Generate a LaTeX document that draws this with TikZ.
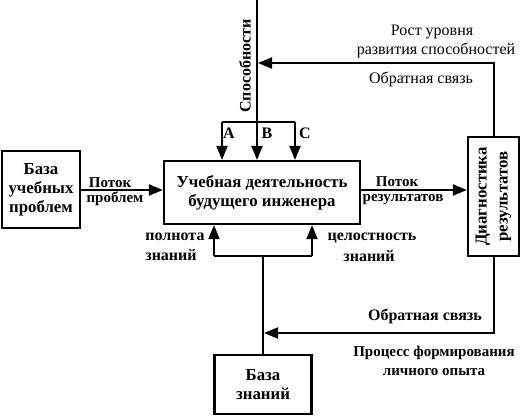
\documentclass[tikz,border=0pt]{standalone}
\usepackage{fontspec}
\setmainfont{Liberation Serif}
\usetikzlibrary{arrows.meta}
\newcommand{\shrift}{\fontsize{16}{19}\selectfont}
\newcommand{\melkij}{\fontsize{15}{19}\selectfont}
\tikzset{
  blok/.style={draw, line width=2.2pt, inner sep=0pt, align=center, font=\fontsize{16.8}{19}\selectfont\bfseries},
  metka/.style={inner sep=0pt, font=\shrift},
  zhmetka/.style={inner sep=0pt, font=\shrift\bfseries},
  mmetka/.style={inner sep=0pt, font=\melkij\bfseries},
  liniya/.style={line width=2pt},
  strelka/.style={line width=2pt, -{Triangle[length=14pt,width=11pt]}},
}
\begin{document}
\begin{tikzpicture}[x=1pt, y=-1pt]
  \useasboundingbox (0,0) rectangle (521,416);
  % blocks
  \node[blok, minimum width=78pt, minimum height=77pt] (zadachi) at (41,189.5) {База\\учебных\\проблем};
  \node[blok, minimum width=196pt, minimum height=63pt] (glavn) at (262,192.5) {Учебная деятельность\\будущего инженера};
  \node[blok, minimum width=51pt, minimum height=119pt] (diag) at (493.5,196.5) {};
  \node[rotate=90, align=center, inner sep=0pt, font=\fontsize{16.8}{21}\selectfont\bfseries] (diagtxt) at (diag) {Диагностика\\результатов};
  \node[blok, minimum width=97pt, minimum height=59pt] (znan) at (263,384.5) {База\\знаний};
  % labels
  \foreach \x/\y/\n/\l in {110/183/pp1/Поток,115/199/pp2/проблем,397/182/pr1/Поток,403/200/pr2/результатов,
      434/353/pf1/Процесс формирования,434/372/pf2/личного опыта}{
    \node[mmetka] (\n) at (\x,\y) {\l};
  }
  \foreach \x/\y/\n/\l in {229/133/la/A,267/133/lb/B,305/133/lc/C,175/237/po1/полнота,171/255/po2/знаний,
      372/238/ce1/целостность,369/256/ce2/знаний,425/316/ob2/Обратная связь}{
    \node[zhmetka] (\n) at (\x,\y) {\l};
  }
  \foreach \x/\y/\n/\l in {432/32/ru1/Рост уровня,436/50/ru2/развития способностей,421/79/ob1/Обратная связь}{
    \node[metka] (\n) at (\x,\y) {\l};
  }
  \node[zhmetka, rotate=90] (sposob) at (245,66) {Способности};
  % connectors
  \coordinate (verh) at (257,0);
  \coordinate (razvA) at (222,122);
  \coordinate (razvC) at (295,122);
  \coordinate (obrV) at (257,63);
  \coordinate (nizA) at (214,256);
  \coordinate (nizC) at (312,256);
  \coordinate (obrN) at (263,333);
  \coordinate (potok) at (0,190);
  \draw[strelka] (zadachi.east |- potok) -- (glavn.west |- potok);
  \draw[strelka] (glavn.east |- potok) -- (diag.west |- potok);
  \draw[strelka] (verh) -- (verh |- glavn.north);
  \draw[liniya] (razvA) -- (razvC);
  \draw[strelka] (razvA) -- (razvA |- glavn.north);
  \draw[strelka] (razvC) -- (razvC |- glavn.north);
  \draw[strelka, shorten >=1pt] (diag.north) |- (obrV);
  \draw[liniya] (znan.north) -- (znan.north |- nizA);
  \draw[liniya] (nizA) -- (nizC);
  \draw[strelka] (nizA) -- (nizA |- glavn.south);
  \draw[strelka] (nizC) -- (nizC |- glavn.south);
  \draw[strelka, shorten >=1pt] (diag.south) |- (obrN);
\end{tikzpicture}
\end{document}
